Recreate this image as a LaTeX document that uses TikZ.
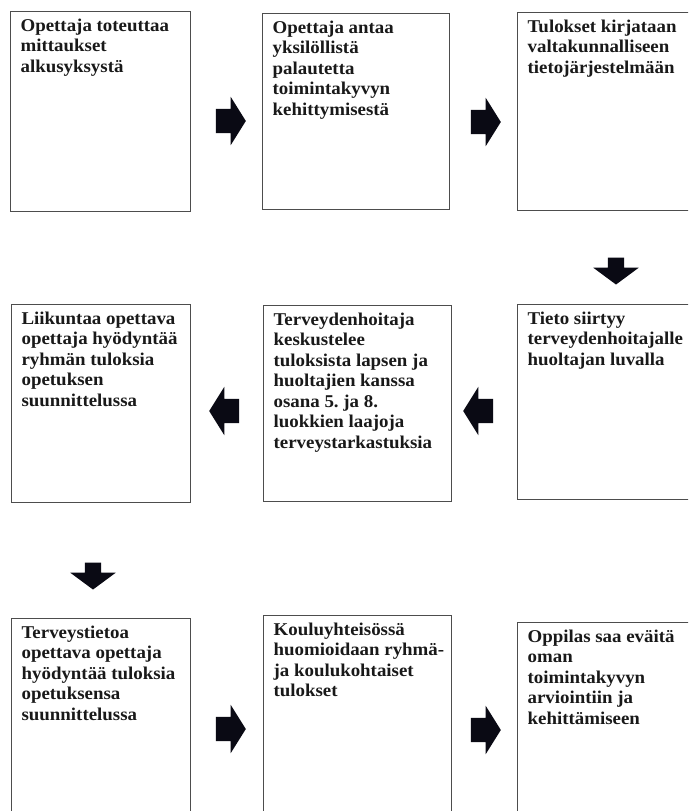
\documentclass[tikz,border=0pt]{standalone}
\usepackage{fontspec}
\setmainfont{Liberation Serif}[FakeStretch=1.05]
\usetikzlibrary{shapes.arrows}

\definecolor{boxgray}{HTML}{4D4D4D}
\definecolor{arrowblack}{HTML}{0A0A14}

% text block of a step, fixed size, text at the top
\newcommand{\steptext}[3]{\parbox[t][#2][t]{#1}{\raggedright\frenchspacing #3}}

\tikzset{
  stepbox/.style={draw=boxgray, line width=1.2pt, inner xsep=10pt, inner ysep=7pt,
    anchor=north west, font=\fontsize{18}{20.5}\selectfont\bfseries, text=black!90},
  flowarrow/.style={single arrow, fill=arrowblack, inner sep=0pt, text width=0pt,
    text height=12pt, text depth=12pt, minimum height=30pt,
    single arrow head extend=12pt, single arrow tip angle=116},
  downarrow/.style={flowarrow, rotate=-90, text height=8pt, text depth=8pt,
    minimum height=27pt, single arrow head extend=14.5pt, single arrow tip angle=107}
}

\begin{document}
\begin{tikzpicture}[x=1pt,y=-1pt]
  \useasboundingbox (0,0) rectangle (688,811);
  \fill[white] (0,0) rectangle (688,811);
  \clip (0,0) rectangle (688,811);

  % first row
  \node[stepbox] (b1) at (10,11) {\steptext{160pt}{186pt}{Opettaja toteuttaa\\ mittaukset\\ alkusyksystä}};
  \node[stepbox] (b2) at (262,13) {\steptext{167pt}{182pt}{Opettaja antaa\\ yksilöllistä\\ palautetta\\ toimintakyvyn\\ kehittymisestä}};
  \node[stepbox] (b3) at (517,12) {\steptext{170pt}{184pt}{Tulokset kirjataan\\ valtakunnalliseen\\ tietojärjestelmään}};

  % second row
  \node[stepbox] (b4) at (11,304) {\steptext{159pt}{184pt}{Liikuntaa opettava\\ opettaja hyödyntää\\ ryhmän tuloksia\\ opetuksen\\ suunnittelussa}};
  \node[stepbox] (b5) at (263,305) {\steptext{168pt}{182pt}{Terveydenhoitaja\\ keskustelee\\ tuloksista lapsen ja\\ huoltajien kanssa\\ osana 5. ja 8.\\ luokkien laajoja\\ terveystarkastuksia}};
  \node[stepbox] (b6) at (517,304) {\steptext{170pt}{181pt}{Tieto siirtyy\\ terveydenhoitajalle\\ huoltajan luvalla}};

  % third row
  \node[stepbox] (b7) at (11,618) {\steptext{159pt}{210pt}{Terveystietoa\\ opettava opettaja\\ hyödyntää tuloksia\\ opetuksensa\\ suunnittelussa}};
  \node[stepbox] (b8) at (263,615) {\steptext{168pt}{210pt}{Kouluyhteisössä\\ \mbox{huomioidaan ryhmä-}\\ ja koulukohtaiset\\ tulokset}};
  \node[stepbox] (b9) at (517,622) {\steptext{170pt}{210pt}{Oppilas saa eväitä\\ oman\\ toimintakyvyn\\ arviointiin ja\\ kehittämiseen}};

  % arrows between the steps
  \node[flowarrow] (a12) at (227,121) {};
  \node[flowarrow] (a23) at (482,122) {};
  \node[downarrow] (a36) at (616,268) {};
  \node[flowarrow, rotate=180] (a65) at (482,411) {};
  \node[flowarrow, rotate=180] (a54) at (228,411) {};
  \node[downarrow] (a47) at (93,573) {};
  \node[flowarrow] (a78) at (227,729) {};
  \node[flowarrow] (a89) at (482,730) {};
\end{tikzpicture}
\end{document}
